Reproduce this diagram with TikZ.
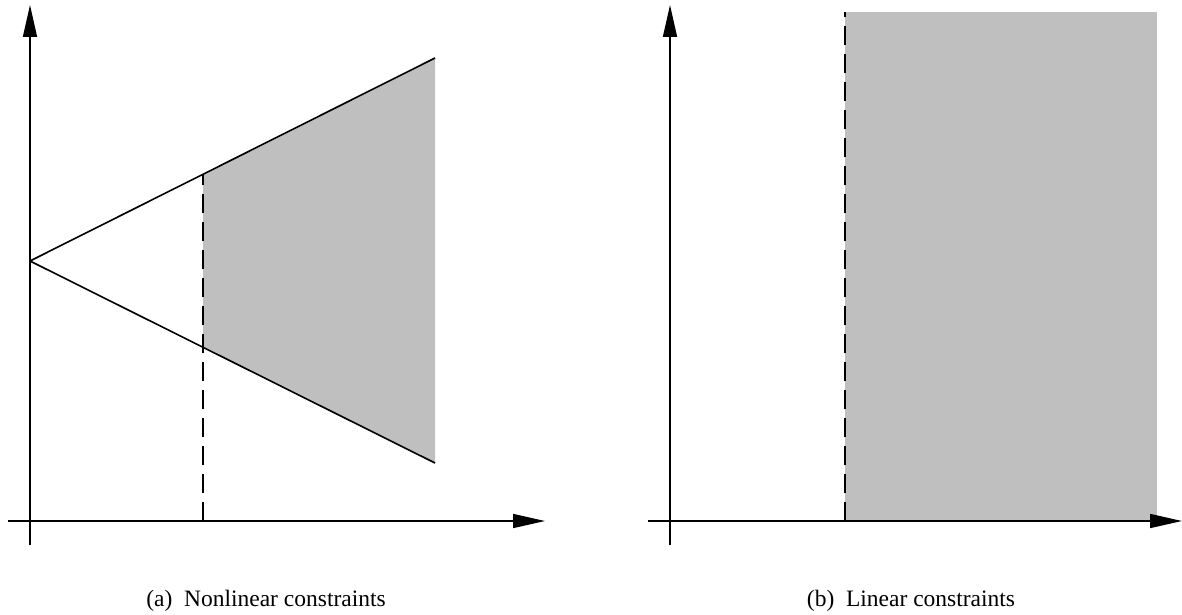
\documentclass[tikz,border=0pt]{standalone}
\usepackage{fontspec}
\setmainfont{Liberation Serif}
\usetikzlibrary{arrows.meta}
\definecolor{regiongray}{RGB}{191,191,191}
\tikzset{
  axis/.style={line width=1.6pt,-{Triangle[length=32pt,width=14pt]}},
  bound/.style={line width=1.6pt},
  dashline/.style={line width=1.6pt,dash pattern=on 19pt off 9pt},
  region/.style={fill=regiongray},
  caption/.style={font=\fontsize{23.5}{28}\selectfont,anchor=center}
}
\begin{document}
\begin{tikzpicture}[x=1pt,y=-1pt]
\useasboundingbox (0,0) rectangle (1182,615);
% left panel
\coordinate (apex) at (30,261);
\coordinate (ue) at (435,58);
\coordinate (le) at (435,463);
\coordinate (um) at (203,174.3);
\coordinate (lm) at (203,347.3);
\coordinate (db) at (203,521);
\path[region] (um) -- (ue) -- (le) -- (lm) -- cycle;
\draw[dashline] (db) -- (um);
\draw[bound] (apex) -- (ue);
\draw[bound] (apex) -- (le);
\coordinate (ya0) at (30,545);
\coordinate (ya1) at (30,5);
\coordinate (xa0) at (8,521);
\coordinate (xa1) at (545,521);
\draw[axis] (ya0) -- (ya1);
\draw[axis] (xa0) -- (xa1);
\node[caption] (capa) at (266,601) {(a)\ \ Nonlinear constraints};
% right panel
\coordinate (rt) at (845,12);
\coordinate (rb) at (1157,521);
\path[region] (rt) rectangle (rb);
\coordinate (dt) at (845,12);
\coordinate (dbb) at (845,521);
\draw[dashline] (dbb) -- (dt);
\coordinate (yb0) at (670,545);
\coordinate (yb1) at (670,5);
\coordinate (xb0) at (648,521);
\coordinate (xb1) at (1182,521);
\draw[axis] (yb0) -- (yb1);
\draw[axis] (xb0) -- (xb1);
\node[caption] (capb) at (911,601) {(b)\ \ Linear constraints};
\end{tikzpicture}
\end{document}
